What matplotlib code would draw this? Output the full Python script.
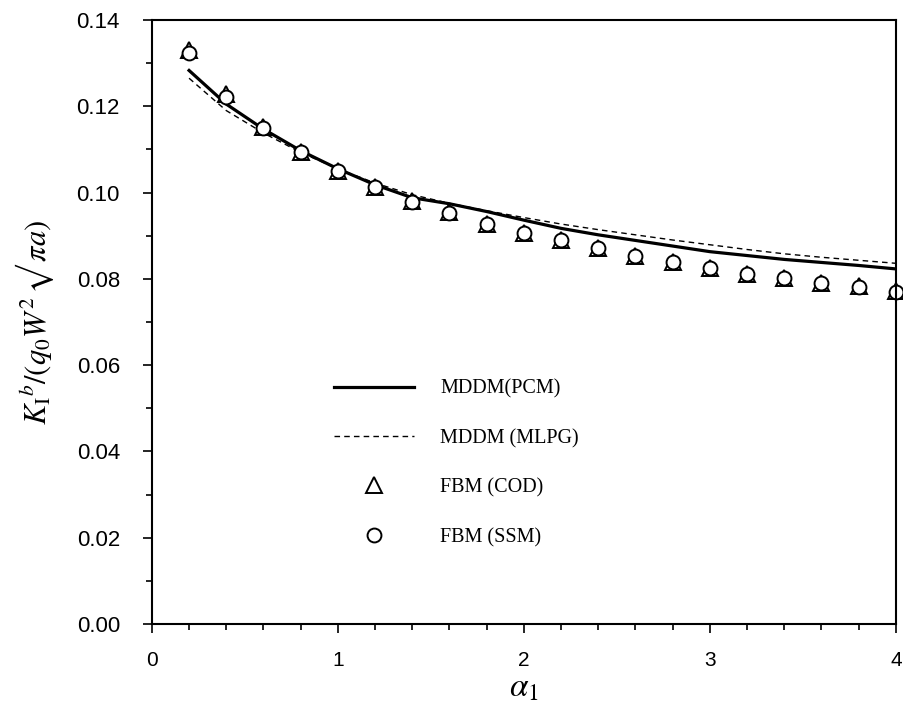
import numpy as np
import matplotlib
matplotlib.use("Agg")
import matplotlib.pyplot as plt
from matplotlib.ticker import MultipleLocator, FormatStrFormatter

plt.rcParams['mathtext.fontset'] = 'stix'

# normalised SIF vs alpha_1
alpha = [0.2, 0.4, 0.6, 0.8, 1.0, 1.2, 1.4, 1.6, 1.8, 2.0,
         2.2, 2.4, 2.6, 2.8, 3.0, 3.2, 3.4, 3.6, 3.8, 4.0]
pcm = [0.1283, 0.1205, 0.1147, 0.1097, 0.1055, 0.1018, 0.0988, 0.0974, 0.0956, 0.0936,
       0.0917, 0.0902, 0.0889, 0.0876, 0.0863, 0.0854, 0.0845, 0.0838, 0.0831, 0.0823]
mlpg = [0.1265, 0.1190, 0.1138, 0.1093, 0.1055, 0.1022, 0.0995, 0.0975, 0.0958, 0.0942,
        0.0927, 0.0914, 0.0902, 0.0890, 0.0879, 0.0868, 0.0858, 0.0850, 0.0843, 0.0836]
cod = [0.1330, 0.1228, 0.1153, 0.1095, 0.1051, 0.1013, 0.0980, 0.0954, 0.0928, 0.0907,
       0.0890, 0.0872, 0.0854, 0.0839, 0.0826, 0.0812, 0.0802, 0.0791, 0.0783, 0.0771]
ssm = [0.1324, 0.1222, 0.1150, 0.1093, 0.1050, 0.1012, 0.0979, 0.0953, 0.0927, 0.0906,
       0.0889, 0.0871, 0.0853, 0.0838, 0.0825, 0.0811, 0.0801, 0.0790, 0.0782, 0.0770]

fig = plt.figure(figsize=(9.04, 7.11), dpi=100)
ax = fig.add_axes([0.168, 0.1224, 0.823, 0.8495])

ax.plot(alpha, pcm, '-', color='black', lw=2.3, label='MDDM(PCM)')
ax.plot(alpha, mlpg, '--', color='black', lw=1.0, dashes=(4, 3), label='MDDM (MLPG)')
ax.plot(alpha, cod, '^', ls='none', ms=11, mfc='white', mec='black', mew=1.4,
        label='FBM (COD)', clip_on=False)
ax.plot(alpha, ssm, 'o', ls='none', ms=10, mfc='white', mec='black', mew=1.4,
        label='FBM (SSM)', clip_on=False)

ax.set_xlim(0, 4)
ax.set_ylim(0, 0.14)
ax.xaxis.set_major_locator(MultipleLocator(1))
ax.xaxis.set_minor_locator(MultipleLocator(0.2))
ax.yaxis.set_major_locator(MultipleLocator(0.02))
ax.yaxis.set_minor_locator(MultipleLocator(0.01))
ax.yaxis.set_major_formatter(FormatStrFormatter('%.2f'))
ax.tick_params(which='major', direction='out', length=6.5, width=1.2, labelsize=15)
ax.tick_params(which='minor', direction='out', length=4.5, width=1.2)
ax.tick_params(axis='x', which='major', pad=13)
ax.tick_params(axis='y', which='major', pad=16.5, labelsize=16)
ax.tick_params(top=False, right=False)
for lab in ax.get_xticklabels() + ax.get_yticklabels():
    lab.set_fontfamily('Liberation Sans')
for s in ax.spines.values():
    s.set_linewidth(1.5)

ax.set_xlabel(r'$\alpha_1$', fontsize=24, labelpad=0)
ax.set_ylabel('$K_{\\mathrm{I}}{}^{b}/(q_0W^2\\,\u221a\\,\\pi a)$', fontsize=22, labelpad=15)

leg = ax.legend(loc='upper left', bbox_to_anchor=(0.22, 0.435), frameon=False,
                prop={'family': 'Liberation Serif', 'size': 14.5},
                handlelength=4.0, handletextpad=1.3, labelspacing=1.5)

fig.savefig('out.png', dpi=100)
